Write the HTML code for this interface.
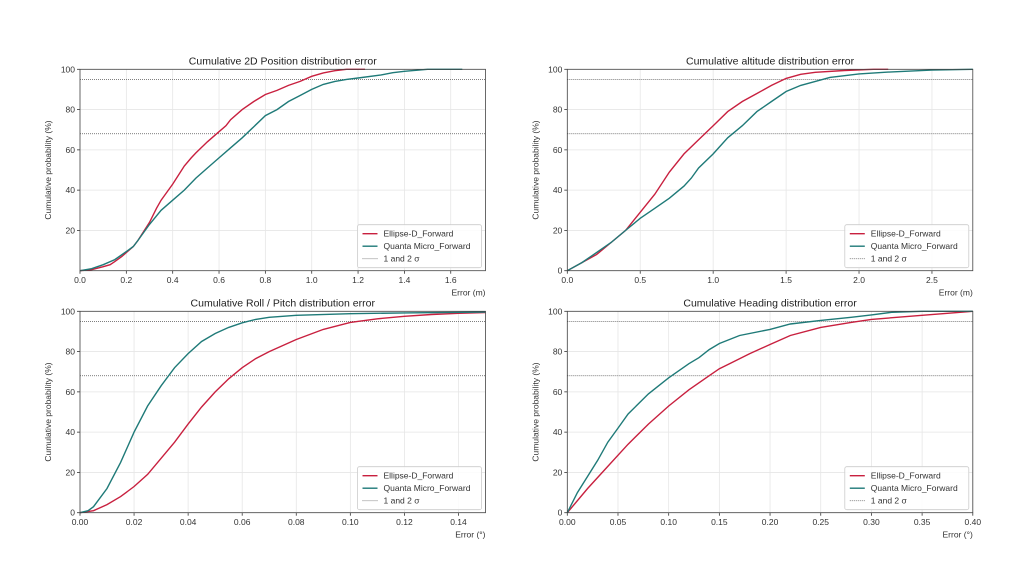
<!DOCTYPE html>
<html><head><meta charset="utf-8"><style>
html,body{margin:0;padding:0;background:#fff;width:1024px;height:576px;overflow:hidden}
svg{display:block;font-family:"Liberation Sans","DejaVu Sans",sans-serif}
</style></head><body>
<svg id="s" width="1024" height="576" xmlns="http://www.w3.org/2000/svg"></svg>
<script>
const R='#c8203f',T='#1f7a78';
const plots=[
{x0:80,top:69.3,bot:270.7,xmax:1.75,title:'Cumulative 2D Position distribution error',xl:'Error (m)',
 xt:[0,0.2,0.4,0.6,0.8,1.0,1.2,1.4,1.6],fmt:v=>v.toFixed(1),yt:[20,40,60,80,100],
 red:[[0,0],[0.05,0.5],[0.1,2],[0.13,3],[0.15,4.5],[0.18,7],[0.2,9],[0.23,12],[0.25,15],[0.3,24],[0.33,31],[0.35,35],[0.4,43],[0.45,52],[0.48,56],[0.5,58.5],[0.55,64],[0.6,69],[0.63,72],[0.65,75],[0.7,80],[0.75,84],[0.8,87.5],[0.85,89.5],[0.9,92],[0.95,94],[1.0,96.5],[1.05,98.2],[1.1,99.3],[1.15,100],[1.23,100]],
 teal:[[0,0],[0.05,1],[0.1,3],[0.15,5.5],[0.2,9.5],[0.23,12],[0.25,15],[0.3,23],[0.35,30],[0.38,33],[0.4,35],[0.45,40],[0.5,46],[0.55,51],[0.6,56],[0.65,61],[0.7,66],[0.75,71.5],[0.8,77],[0.85,80],[0.9,84],[0.95,87],[1.0,90],[1.05,92.5],[1.1,94],[1.15,95],[1.2,95.7],[1.3,97.2],[1.35,98.3],[1.4,99],[1.5,100],[1.65,100]]},
{x0:567.3,top:69.3,bot:270.7,xmax:2.78,title:'Cumulative altitude distribution error',xl:'Error (m)',
 xt:[0,0.5,1.0,1.5,2.0,2.5],fmt:v=>v.toFixed(1),yt:[0,20,40,60,80,100],
 red:[[0,0],[0.1,4],[0.2,8],[0.3,14],[0.4,20],[0.5,29],[0.6,38],[0.7,49],[0.8,58],[0.9,65],[1.0,72],[1.1,79],[1.2,84],[1.3,88],[1.4,92],[1.5,95.5],[1.6,97.5],[1.7,98.5],[1.9,99.4],[2.1,100],[2.2,100]],
 teal:[[0,0],[0.1,4],[0.2,9],[0.3,14],[0.4,20],[0.5,26],[0.6,31],[0.7,36],[0.8,42],[0.85,46],[0.9,51],[1.0,58],[1.1,66],[1.2,72],[1.3,79],[1.4,84],[1.5,89],[1.6,92],[1.7,94],[1.8,96],[2.0,97.7],[2.2,98.6],[2.5,99.6],[2.78,100]]},
{x0:80,top:311.3,bot:512.7,xmax:0.15,title:'Cumulative Roll / Pitch distribution error',xl:'Error (°)',
 xt:[0,0.02,0.04,0.06,0.08,0.10,0.12,0.14],fmt:v=>v.toFixed(2),yt:[0,20,40,60,80,100],
 red:[[0,0],[0.005,1],[0.01,4],[0.015,8],[0.02,13],[0.025,19],[0.03,27],[0.035,35],[0.04,44],[0.045,52.5],[0.05,60],[0.055,66.5],[0.06,72],[0.065,76.5],[0.07,80],[0.08,86],[0.09,91],[0.1,94.5],[0.11,96.3],[0.12,97.5],[0.13,98.4],[0.14,99],[0.15,99.4]],
 teal:[[0,0],[0.003,1],[0.005,3],[0.01,12],[0.015,25],[0.02,40],[0.025,53],[0.03,63],[0.035,72],[0.04,79],[0.045,85],[0.05,89],[0.055,92],[0.06,94.3],[0.065,96],[0.07,97],[0.08,98],[0.1,98.8],[0.12,99.2],[0.15,99.6]]},
{x0:567.3,top:311.3,bot:512.7,xmax:0.40,title:'Cumulative Heading distribution error',xl:'Error (°)',
 xt:[0,0.05,0.1,0.15,0.2,0.25,0.3,0.35,0.4],fmt:v=>v.toFixed(2),yt:[0,20,40,60,80,100],
 red:[[0,0],[0.02,12],[0.04,23],[0.06,34],[0.08,44],[0.1,53],[0.12,61],[0.14,68],[0.15,71.5],[0.16,74],[0.18,79],[0.2,83.5],[0.22,88],[0.25,92],[0.28,94.5],[0.3,96],[0.35,98],[0.4,100]],
 teal:[[0,0],[0.01,10],[0.02,18],[0.03,26],[0.04,35],[0.05,42],[0.06,49],[0.07,54],[0.08,59],[0.1,67],[0.12,74],[0.13,77],[0.14,81],[0.15,84],[0.17,88],[0.2,91],[0.22,93.7],[0.25,95.5],[0.28,97],[0.3,98.2],[0.32,99.5],[0.35,100],[0.4,100]]}
];
const W=405.5;let h='';
for(const p of plots){
 const X=v=>p.x0+v/p.xmax*W, Y=v=>p.bot-v/100*(p.bot-p.top);
 const x1=p.x0+W;
 for(const t of p.xt){h+=`<line x1="${X(t)}" x2="${X(t)}" y1="${p.top}" y2="${p.bot}" stroke="#e6e6e6" stroke-width="0.8"/>`;
  h+=`<line x1="${X(t)}" x2="${X(t)}" y1="${p.bot}" y2="${p.bot+3}" stroke="#333" stroke-width="0.8"/>`;
  h+=`<text x="${X(t)}" y="${p.bot+12.5}" font-size="8.5" fill="#333" text-anchor="middle">${p.fmt(t)}</text>`;}
 for(const t of p.yt){h+=`<line x1="${p.x0}" x2="${x1}" y1="${Y(t)}" y2="${Y(t)}" stroke="#e6e6e6" stroke-width="0.8"/>`;
  h+=`<line x1="${p.x0-3}" x2="${p.x0}" y1="${Y(t)}" y2="${Y(t)}" stroke="#333" stroke-width="0.8"/>`;
  h+=`<text x="${p.x0-5}" y="${Y(t)+3}" font-size="8.5" fill="#333" text-anchor="end">${t}</text>`;}
 for(const v of [95,68])h+=`<line x1="${p.x0}" x2="${x1}" y1="${Y(v)}" y2="${Y(v)}" stroke="#555" stroke-width="0.8" stroke-dasharray="1,1"/>`;
 for(const [k,c] of [['red',R],['teal',T]])h+=`<polyline fill="none" stroke="${c}" stroke-width="1.4" points="${p[k].map(a=>X(a[0]).toFixed(1)+','+Y(a[1]).toFixed(1)).join(' ')}"/>`;
 h+=`<rect x="${p.x0}" y="${p.top}" width="${W}" height="${p.bot-p.top}" fill="none" stroke="#444" stroke-width="0.8"/>`;
 h+=`<text x="${p.x0+W/2}" y="${p.top-5}" font-size="10.5" fill="#222" text-anchor="middle">${p.title}</text>`;
 h+=`<text x="${x1}" y="${p.bot+25}" font-size="8.5" fill="#333" text-anchor="end">${p.xl}</text>`;
 const cy=(p.top+p.bot)/2;h+=`<text transform="translate(${p.x0-29},${cy}) rotate(-90)" font-size="8.5" fill="#333" text-anchor="middle">Cumulative probability (%)</text>`;
 const lx=x1-128,ly=p.bot-46;
 h+=`<rect x="${lx}" y="${ly}" width="124" height="43" rx="2" fill="#fff" fill-opacity="0.85" stroke="#ccc" stroke-width="0.8"/>`;
 const items=[[R,'Ellipse-D_Forward',0],[T,'Quanta Micro_Forward',0],['#777','1 and 2 σ',1]];
 items.forEach((it,i)=>{const yy=ly+9+i*12.5;
  h+=`<line x1="${lx+5}" x2="${lx+20}" y1="${yy}" y2="${yy}" stroke="${it[0]}" stroke-width="${it[2]?0.8:1.4}" ${it[2]?'stroke-dasharray="1,1"':''}/>`;
  h+=`<text x="${lx+26}" y="${yy+3}" font-size="8.5" fill="#333">${it[1]}</text>`;});
}
document.getElementById('s').innerHTML=h;
</script>
</body></html>
